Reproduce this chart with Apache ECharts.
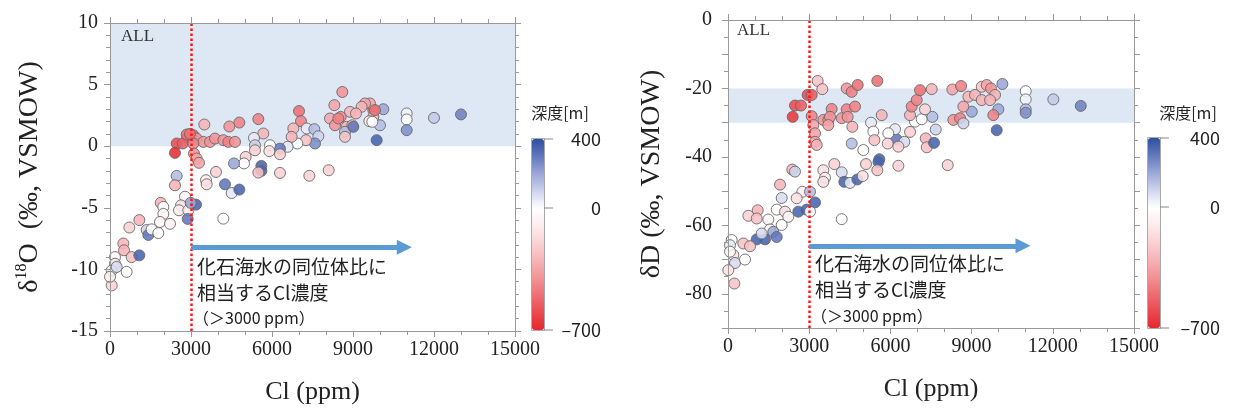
<!DOCTYPE html>
<html><head><meta charset="utf-8">
<script src="https://cdn.jsdelivr.net/npm/echarts@6/dist/echarts.min.js"></script>
<style>html,body{margin:0;padding:0;background:#fff}#c{width:1235px;height:412px}</style>
</head><body><div id="c"></div>
<script>
// ---------- data ----------
const xTickLabels = ['0','3000','6000','9000','12000','15000'];
const depthTicks = ['400','0','–700'];

// Left panel: Cl (ppm), δ18O (‰), depth (m)
const leftCl = [8605,8309,7000,5494,4790,4420,3494,7074,6790,7284,
7568,7716,7593,7260,6938,6728,6580,6296,6296,5926,
5901,5679,5333,5370,5370,5025,4963,4593,5605,5605,
5494,6296,7383,8100,3926,3556,3580,4260,4506,4790,
4197,
9753,10123,9630,9444,9321,9753,9605,10000,9877,10988,
10988,10988,12000,13000,8889,9111,8543,8148,8333,8765,
8975,8704,8704,
2864,3087,3210,3457,3704,3889,4197,4383,4630,2470,
2691,2407,3087,3111,3210,3296,2840,2963,
2470,2407,2778,2630,2556,2901,2877,3185,2988,1877,
1975,1975,1852,2222,1086,716,1358,1420,1543,1790,
494,519,802,1086,185,185,617,62,62,247,
0,
8457,9815,9716,9012];
const leftO18 = [4.4,3.33,2.85,2.2,1.92,1.6,1.76,2.03,1.44,1.44,
1.38,0.81,0.22,0.49,0.22,0.76,-0.05,-0.2,-0.65,0.08,
-0.4,1.03,0.67,0.08,-0.33,-0.87,-1.4,-1.4,-1.6,-2.0,
-2.14,-2.17,-2.4,-1.95,-2.09,-2.76,-3.09,-3.09,-3.8,-3.52,
-5.88,
2.93,3.0,3.47,3.47,3.2,2.38,2.03,1.7,0.49,2.66,
2.17,1.3,2.3,2.58,2.79,2.66,2.38,2.25,1.7,1.57,
1.7,1.17,0.76,
0.68,0.89,0.62,0.35,0.35,0.62,0.49,0.35,0.35,0.22,
0.22,-0.54,0.22,-0.6,-1.0,-1.35,0.95,1.0,
-2.41,-3.17,-4.1,-4.8,-5.2,-5.2,-5.9,-4.74,-4.6,-4.6,
-4.93,-5.5,-6.15,-6.3,-6.0,-6.6,-6.8,-7.2,-6.75,-7.05,
-7.9,-8.45,-9.0,-8.86,-9.0,-9.54,-10.2,-10.1,-11.3,-9.8,
-10.6,
2.25,2.93,1.98,1.57];
const leftDepth = [-400,-350,-500,-450,-450,-400,-300,-450,-300,50,
150,100,250,-250,0,-300,50,300,-200,0,
-150,-300,50,100,-200,-200,0,200,350,350,
-250,-200,-200,-200,-200,-100,-150,300,50,350,
0,
-450,200,-350,-350,-300,-300,-100,150,350,30,
0,250,120,280,-300,-300,-400,-350,-400,-300,
-300,150,-250,
-550,-500,-400,-400,-400,-400,-400,-450,-400,-600,
-550,-680,-450,-400,-350,-350,-500,-500,
150,-300,-50,-150,-100,-100,300,350,200,-300,
0,-50,-50,-80,-300,-200,100,300,0,0,
-300,-300,-250,350,-50,-150,0,50,-200,80,
-100,
-450,-500,0,300];

// Right panel: Cl (ppm), δD (‰), depth (m)
const rightCl = [3313,3485,4385,4570,4792,5517,2944,3092,2475,2697,
2390,3092,3153,3215,3215,3277,3522,3707,3830,3769,
3707,4201,4385,4693,4422,4594,5284,5370,5407,5679,
5000,4570,6234,6171,5924,5900,6515,6294,5591,5560,
5099,5517,6294,3928,3522,3584,3522,4201,4297,4508,
4778,4977,6725,6910,7157,7551,7675,7305,7342,7612,
8118,6725,6787,6972,7095,7527,7279,8289,8610,8326,
8573,8696,9006,8696,8881,9128,9374,9559,9718,9866,
9374,9681,9988,9803,9928,10136,11000,11000,11000,11000,
12020,13033,2377,2475,1922,2746,2537,3030,3215,2906,
2598,3030,1984,1800,2106,2228,1984,1097,752,1060,
1490,1552,1675,1800,1060,1367,1245,566,813,136,
74,197,259,628,12,234,74,4201];
const rightDD = [-17.8,-20.2,-20.0,-21.0,-19.0,-17.8,-21.9,-21.9,-25.0,-25.0,
-28.3,-28.1,-30.7,-33.1,-35.6,-36.5,-29.2,-29.2,-26.0,-28.3,
-30.7,-28.7,-26.1,-25.3,-28.3,-31.2,-30.0,-32.6,-35.1,-27.8,
-38.0,-36.1,-34.9,-31.9,-33.1,-36.1,-35.6,-37.0,-40.7,-41.5,
-42.1,-43.9,-42.6,-42.1,-43.9,-46.1,-47.3,-44.5,-47.3,-47.6,
-46.6,-45.6,-32.7,-29.7,-29.0,-28.3,-32.0,-34.6,-37.2,-35.9,
-42.4,-27.8,-25.3,-23.4,-20.5,-20.2,-26.1,-20.3,-19.3,-29.2,
-28.7,-30.2,-26.8,-25.3,-22.4,-21.9,-19.5,-19.0,-20.0,-21.9,
-23.4,-23.4,-26.1,-27.8,-32.2,-18.7,-20.8,-23.2,-26.1,-27.1,
-23.2,-25.1,-43.7,-44.3,-48.1,-50.2,-52.1,-50.2,-53.3,-55.4,
-56.0,-56.0,-52.0,-55.4,-56.0,-57.5,-59.9,-55.6,-57.2,-58.0,
-58.3,-61.2,-61.9,-63.4,-64.1,-64.1,-62.4,-65.3,-66.1,-64.3,
-65.8,-68.7,-71.0,-70.0,-73.1,-77.0,-67.7,-58.2];
const rightDepth = [-250,-250,-400,-450,-500,-500,-600,-550,-600,-550,
-650,-450,-350,-350,-350,-300,-400,-400,-450,-400,
-350,-400,-450,-450,-400,-300,50,0,-250,-300,
0,150,300,50,0,-200,80,-200,350,350,
-200,-250,-200,-200,-150,-100,-150,80,350,50,
350,-150,-200,0,0,150,100,-300,-250,350,
-200,-300,-450,-450,-500,-300,-200,-350,-450,-400,
-450,100,200,-350,-300,-300,-250,-350,-400,-300,
-300,-300,200,-450,350,200,0,30,150,250,
120,280,-300,100,-300,-80,-150,150,350,350,
350,0,80,0,-150,-50,0,-300,-200,-250,
-50,-50,200,300,350,350,80,-250,-250,0,
50,-150,80,0,-150,-250,-50,0];

// reference lines / bands / arrow (data units)
const clThreshold = 3000;
const leftBand = [0, 10];
const rightBand = [-20, -30];
const leftArrow = {x0: 3000, x1: 10900, y: -8.2};
const rightArrow = {x0: 3000, x1: 10900, y: -66};

// ---------- chart ----------
const SERIF = '"Liberation Serif","Times New Roman",serif';
const SANS = '"Noto Sans CJK JP","Noto Sans",sans-serif';
const depthColors = ['#e6262c','#ea4a50','#ee6f74','#f29397','#f6b4b7','#fad2d4','#fdeced','#ffffff',
  '#cdd3ec','#9aa7d8','#6278bd','#2c4f9f'];
const axisGray = '#999';

function pts(xs, ys, ds){ return xs.map((x,i)=>[x, ys[i], ds[i]]); }

function xAxisPair(grid){
  const base = {gridIndex:grid, type:'value', min:0, max:15000, interval:3000, z:10,
    splitLine:{show:false},
    axisLine:{onZero:false, lineStyle:{color:axisGray}},
    axisTick:{show:true, length:6, lineStyle:{color:axisGray}},
    minorTick:{show:true, splitNumber:3, length:4, lineStyle:{color:axisGray}}};
  return [
    Object.assign({}, base, {position:'bottom',
      axisLabel:{fontFamily:SERIF, fontSize:20, color:'#222', margin:9,
        formatter:(v)=>xTickLabels[Math.round(v/3000)]},
      name:'Cl (ppm)', nameLocation:'middle', nameGap:48,
      nameTextStyle:{fontFamily:SERIF, fontSize:26, color:'#222'}}),
    Object.assign({}, base, {position:'top', axisLabel:{show:false}})
  ];
}
function yCommon(extra){
  return Object.assign({type:'value', z:10, splitLine:{show:false},
    axisLine:{show:true, onZero:false, lineStyle:{color:axisGray}},
    axisTick:{show:true, length:6, lineStyle:{color:axisGray}}}, extra);
}

const option = {
  animation:false,
  backgroundColor:'#fff',
  grid:[
    {left:110, top:23, width:405, height:308},
    {left:728, top:20, width:406, height:308}
  ],
  xAxis:[...xAxisPair(0), ...xAxisPair(1)],
  yAxis:[
    yCommon({gridIndex:0, min:-15, max:10, interval:5, position:'left',
      minorTick:{show:true, splitNumber:5, length:4, lineStyle:{color:axisGray}},
      axisLabel:{fontFamily:SERIF, fontSize:20, color:'#222', margin:12},
      name:'{g|δ}{s|18}{g|O  (‰, VSMOW)}', nameLocation:'middle', nameGap:64,
      nameTextStyle:{rich:{
        g:{fontFamily:SERIF, fontSize:28, color:'#222', lineHeight:32},
        s:{fontFamily:SERIF, fontSize:16, color:'#222', lineHeight:32, verticalAlign:'top'}}}}),
    yCommon({gridIndex:0, min:-15, max:10, interval:5, position:'right',
      minorTick:{show:true, splitNumber:5, length:4, lineStyle:{color:axisGray}},
      axisLabel:{show:false}}),
    yCommon({gridIndex:1, min:-90, max:0, interval:10, position:'left',
      minorTick:{show:true, splitNumber:2, length:4, lineStyle:{color:axisGray}},
      axisLabel:{fontFamily:SERIF, fontSize:20, color:'#222', margin:16,
        formatter:(v)=> (Math.round(v)%20===0 ? String(v) : '')},
      name:'δD (‰, VSMOW)', nameLocation:'middle', nameGap:62,
      nameTextStyle:{fontFamily:SERIF, fontSize:28, color:'#222'}}),
    yCommon({gridIndex:1, min:-90, max:0, interval:10, position:'right',
      minorTick:{show:true, splitNumber:2, length:4, lineStyle:{color:axisGray}},
      axisLabel:{show:false}})
  ],
  visualMap:[
    {type:'continuous', seriesIndex:0, dimension:2, min:-700, max:400, calculable:false,
      show:true, orient:'vertical', left:532, top:139, itemWidth:12, itemHeight:191,
      padding:0, text:null, inRange:{color:depthColors}, hoverLink:false},
    {type:'continuous', seriesIndex:1, dimension:2, min:-700, max:400, calculable:false,
      show:true, orient:'vertical', left:1148, top:138, itemWidth:12, itemHeight:190,
      padding:0, text:null, inRange:{color:depthColors}, hoverLink:false}
  ],
  series:[
    {type:'scatter', xAxisIndex:0, yAxisIndex:0, symbolSize:11,
      data:pts(leftCl, leftO18, leftDepth),
      itemStyle:{borderColor:'#666', borderWidth:1, opacity:0.88},
      markArea:{silent:true, itemStyle:{color:'#dde8f4'},
        data:[[{yAxis:leftBand[0]},{yAxis:leftBand[1]}]]},
      markLine:{silent:true, symbol:['none','none'], label:{show:false}, animation:false,
        data:[
          {xAxis:clThreshold, lineStyle:{color:'#ff1414', type:'dotted', width:2.5}},
          [{coord:[leftArrow.x0, leftArrow.y], symbol:'none', lineStyle:{color:'#5b9bd5', type:'solid', width:5}},
           {coord:[leftArrow.x1, leftArrow.y], symbol:'triangle', symbolSize:[15,15], symbolRotate:-90,
             lineStyle:{color:'#5b9bd5', type:'solid', width:5}}]
        ]}},
    {type:'scatter', xAxisIndex:2, yAxisIndex:2, symbolSize:11,
      data:pts(rightCl, rightDD, rightDepth),
      itemStyle:{borderColor:'#666', borderWidth:1, opacity:0.88},
      markArea:{silent:true, itemStyle:{color:'#dde8f4'},
        data:[[{yAxis:rightBand[0]},{yAxis:rightBand[1]}]]},
      markLine:{silent:true, symbol:['none','none'], label:{show:false}, animation:false,
        data:[
          {xAxis:clThreshold, lineStyle:{color:'#ff1414', type:'dotted', width:2.5}},
          [{coord:[rightArrow.x0, rightArrow.y], symbol:'none', lineStyle:{color:'#5b9bd5', type:'solid', width:5}},
           {coord:[rightArrow.x1, rightArrow.y], symbol:'triangle', symbolSize:[15,15], symbolRotate:-90,
             lineStyle:{color:'#5b9bd5', type:'solid', width:5}}]
        ]}}
  ],
  graphic:[]
};

function panelTexts(ox, oy, x, ys){
  return [
    {type:'text', left:ox, top:oy, z:100, style:{text:'ALL', font:'17px '+SERIF, fill:'#333'}},
    {type:'text', x:x, y:ys[0], z:100, style:{text:'化石海水の同位体比に', font:'19px '+SANS, fill:'#222', textVerticalAlign:'middle'}},
    {type:'text', x:x, y:ys[1], z:100, style:{text:'相当するCl濃度', font:'19px '+SANS, fill:'#222', textVerticalAlign:'middle'}},
    {type:'text', x:x-4, y:ys[2], z:100, style:{text:'（＞3000 ppm）', font:'16px '+SANS, fill:'#222', textVerticalAlign:'middle'}}
  ];
}
function colorbarTexts(barX, top, mid, bot, labelRight, titleX){
  const els = [
    {type:'rect', z:100, shape:{x:barX-0.5, y:top-0.5, width:13, height:bot-top+1}, style:{fill:'none', stroke:'#aaa', lineWidth:1}},
    {type:'text', z:100, x:titleX, y:113, style:{text:'深度[m]', font:'16px '+SANS, fill:'#222', textAlign:'center', textVerticalAlign:'middle'}}
  ];
  [top, mid, bot].forEach((yy,i)=>{
    els.push({type:'line', z:100, shape:{x1:barX+12, y1:yy, x2:barX+21, y2:yy}, style:{stroke:'#888', lineWidth:1}});
    els.push({type:'text', z:100, x:labelRight, y:yy, style:{text:depthTicks[i], font:'18px '+SANS, fill:'#222', textAlign:'right', textVerticalAlign:'middle'}});
  });
  return els;
}
option.graphic = [
  ...panelTexts(121, 28, 197, [267, 293, 318]),
  ...panelTexts(737, 22, 815, [264, 290, 316]),
  ...colorbarTexts(532, 139, 208, 330, 601, 560),
  ...colorbarTexts(1148, 138, 207, 328, 1220, 1188)
];

const chart = echarts.init(document.getElementById('c'), null, {renderer:'canvas'});
chart.setOption(option);
</script>
</body></html>
